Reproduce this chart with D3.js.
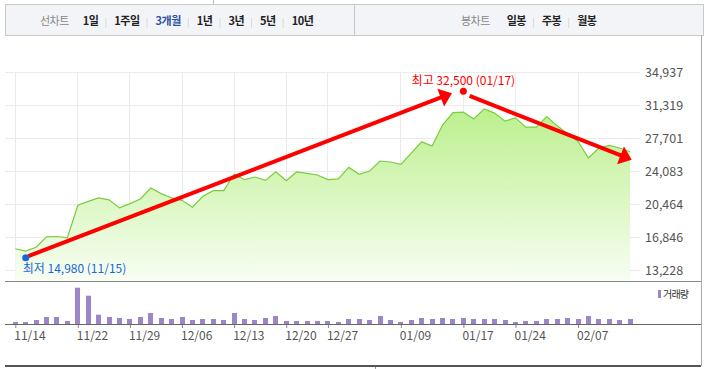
<!DOCTYPE html>
<html>
<head>
<meta charset="utf-8">
<script src="https://cdn.jsdelivr.net/npm/d3@7"></script>
<style>
body { margin: 0; background: #fff; }
svg { display: block; font-family: "Noto Sans CJK KR", sans-serif; }
</style>
</head>
<body>
<svg width="705" height="369"></svg>
<script>
// x labels and the trading-day index they sit on
var dateLabels = ["11/14", "11/22", "11/29", "12/06", "12/13", "12/20", "12/27", "01/09", "01/17", "01/24", "02/07"];
var dateIndex = [0, 6, 11, 16, 21, 26, 30, 37, 43, 48, 54];

var priceTicks = [13228, 16846, 20464, 24083, 27701, 31319, 34937];

// daily close, 60 trading days
var closes = [
  15630, 15370, 15800, 16940, 16970, 16830, 20390, 20820, 21190, 20980,
  20100, 20570, 21080, 22280, 21660, 21190, 20930, 20170, 21370, 21990,
  21990, 23790, 23190, 23480, 23110, 24060, 23080, 24030, 23880, 23700,
  23190, 23270, 24530, 23770, 24140, 25230, 25120, 24860, 26100, 27330,
  26870, 29160, 30530, 30570, 29840, 30930, 30470, 29590, 29950, 28940,
  28940, 30090, 29080, 28210, 27370, 25560, 26650, 26930, 26650, 26240
];

// daily volume (thousand shares)
var volumes = [
  20, 20, 40, 70, 70, 30, 363, 283, 93, 70,
  60, 50, 70, 110, 60, 50, 70, 40, 50, 50,
  40, 110, 50, 40, 60, 80, 30, 30, 30, 30,
  30, 20, 50, 50, 40, 80, 40, 20, 40, 60,
  50, 60, 50, 60, 50, 50, 50, 40, 20, 30,
  30, 50, 50, 60, 50, 80, 50, 50, 40, 50
];

var lowPoint = { i: 1, value: 14980, label: "최저 14,980 (11/15)" };
var highPoint = { i: 43, value: 32500, label: "최고 32,500 (01/17)" };

// red annotation arrows, [index, price]
var arrows = [
  { from: [1.25, 14820], to: [41.9, 32650] },
  { from: [43.6, 32350], to: [59.15, 25370] }
];

var lineMenu = ["1일", "1주일", "3개월", "1년", "3년", "5년", "10년"];
var candleMenu = ["일봉", "주봉", "월봉"];
var activeMenu = "3개월";

var svg = d3.select("svg");

var x = d3.scaleLinear().domain([0, 54]).range([15.3, 578]);
var yP = d3.scaleLinear().domain([13228, 34937]).range([270.7, 72.3]);
var yV = d3.scaleLinear().domain([0, 420]).range([324, 282]);

var priceBottom = 281;

// ---- top menu bar
svg.append("line").attr("x1", 213.5).attr("x2", 213.5).attr("y1", 0).attr("y2", 4)
  .attr("stroke", "#bbb");
svg.append("rect").attr("x", 5.5).attr("y", 4.5).attr("width", 698).attr("height", 31)
  .attr("fill", "#f3f4f7").attr("stroke", "#c9c9c9");
svg.append("line").attr("x1", 354.5).attr("x2", 354.5).attr("y1", 4).attr("y2", 35)
  .attr("stroke", "#c9c9c9");

function menu(title, titleX, items, startX) {
  svg.append("text").attr("x", titleX).attr("y", 21.5).attr("dy", "0.35em")
    .attr("font-size", 11).attr("letter-spacing", -0.5).attr("fill", "#888")
    .text(title);
  var cx = startX;
  items.forEach(function(d, i) {
    if (i > 0) {
      svg.append("line").attr("x1", cx - 8.5).attr("x2", cx - 8.5)
        .attr("y1", 18).attr("y2", 28).attr("stroke", "#dadada");
    }
    var t = svg.append("text").attr("x", cx).attr("y", 21.5).attr("dy", "0.35em")
      .attr("font-size", 11).attr("font-weight", "bold").attr("letter-spacing", -0.5)
      .attr("fill", d === activeMenu ? "#2f52a8" : "#222")
      .text(d);
    cx += t.node().getComputedTextLength() + 16;
  });
}
menu("선차트", 40, lineMenu, 82.7);
menu("봉차트", 461, candleMenu, 506.7);

// ---- grid
var grid = svg.append("g").attr("stroke", "#ebebeb").attr("shape-rendering", "crispEdges");
grid.selectAll(".h").data(priceTicks).enter().append("line")
  .attr("x1", 5).attr("x2", 640)
  .attr("y1", function(d) { return yP(d); }).attr("y2", function(d) { return yP(d); });
grid.selectAll(".v").data(dateIndex).enter().append("line")
  .attr("x1", function(d) { return x(d); }).attr("x2", function(d) { return x(d); })
  .attr("y1", yP(34937)).attr("y2", priceBottom);

// ---- price area + line
var grad = svg.append("defs").append("linearGradient").attr("id", "fillG")
  .attr("gradientUnits", "userSpaceOnUse").attr("x1", 0).attr("x2", 0)
  .attr("y1", 100).attr("y2", priceBottom);
grad.append("stop").attr("offset", 0).attr("stop-color", "#b9ef88");
grad.append("stop").attr("offset", 1).attr("stop-color", "#f8fef3");

svg.append("path").datum(closes)
  .attr("fill", "url(#fillG)")
  .attr("d", d3.area().x(function(d, i) { return x(i); }).y0(priceBottom).y1(function(d) { return yP(d); }));
svg.append("path").datum(closes)
  .attr("fill", "none").attr("stroke", "#79cc3e").attr("stroke-width", 1.2)
  .attr("d", d3.line().x(function(d, i) { return x(i); }).y(function(d) { return yP(d); }));

// ---- price labels
svg.append("g").selectAll("text").data(priceTicks).enter().append("text")
  .attr("x", 645).attr("y", function(d) { return yP(d); }).attr("dy", "0.35em")
  .attr("font-size", 12.5).attr("fill", "#555")
  .text(d3.format(","));

// ---- panel lines
svg.append("line").attr("x1", 5).attr("x2", 701).attr("y1", priceBottom + 0.5).attr("y2", priceBottom + 0.5)
  .attr("stroke", "#888");
svg.append("line").attr("x1", 701.5).attr("x2", 701.5).attr("y1", 35).attr("y2", 366)
  .attr("stroke", "#aaa");

// ---- volume bars
svg.append("g").selectAll("rect").data(volumes).enter().append("rect")
  .attr("x", function(d, i) { return Math.round(x(i) - 2.5); })
  .attr("width", 5)
  .attr("y", function(d) { return yV(d); })
  .attr("height", function(d) { return yV(0) - yV(d); })
  .attr("fill", "#9c86c7");

var xAxis = d3.axisBottom(x).tickValues(dateIndex)
  .tickFormat(function(d, i) { return dateLabels[i]; })
  .tickSize(4).tickPadding(3);
var ax = svg.append("g").attr("transform", "translate(0,324)").call(xAxis);
ax.select(".domain").remove();
ax.selectAll(".tick line").attr("stroke", "#888");
ax.selectAll(".tick text").attr("text-anchor", "start").attr("dx", -1.5)
  .attr("font-family", "'Noto Sans CJK KR', sans-serif").attr("font-size", 12).attr("fill", "#555");
svg.append("line").attr("x1", 5).attr("x2", 701).attr("y1", 324.5).attr("y2", 324.5)
  .attr("stroke", "#666");

// volume legend
svg.append("rect").attr("x", 658).attr("y", 290).attr("width", 3).attr("height", 8).attr("fill", "#9c86c7");
svg.append("text").attr("x", 663).attr("y", 294).attr("dy", "0.35em")
  .attr("font-size", 10).attr("letter-spacing", -0.8).attr("fill", "#333").text("거래량");

// bottom border
svg.append("line").attr("x1", 5).attr("x2", 701).attr("y1", 366).attr("y2", 366)
  .attr("stroke", "#555").attr("stroke-width", 2);
svg.append("line").attr("x1", 375.5).attr("x2", 375.5).attr("y1", 367).attr("y2", 369)
  .attr("stroke", "#999");

// ---- red arrows
arrows.forEach(function(a) {
  var x0 = x(a.from[0]), y0 = yP(a.from[1]), x1 = x(a.to[0]), y1 = yP(a.to[1]);
  var dx = x1 - x0, dy = y1 - y0, len = Math.sqrt(dx * dx + dy * dy);
  var ux = dx / len, uy = dy / len, head = 12, half = 9.5;
  var bx = x1 - ux * head, by = y1 - uy * head;
  svg.append("line").attr("x1", x0).attr("y1", y0).attr("x2", bx + ux).attr("y2", by + uy)
    .attr("stroke", "#f00").attr("stroke-width", 4);
  svg.append("polygon")
    .attr("points", [[x1, y1], [bx - uy * half, by + ux * half], [bx + uy * half, by - ux * half]].join(" "))
    .attr("fill", "#f00");
});

// ---- low / high markers
var lx = x(lowPoint.i), ly = yP(lowPoint.value) + 3;
svg.append("circle").attr("cx", lx).attr("cy", ly).attr("r", 3.5).attr("fill", "#1a66d6");
svg.append("text").attr("x", lx - 3).attr("y", ly + 11.5).attr("dy", "0.35em")
  .attr("font-size", 12).attr("fill", "#1a66d6").text(lowPoint.label);

var hx = x(highPoint.i), hy = yP(highPoint.value) - 3.4;
svg.append("circle").attr("cx", hx).attr("cy", hy).attr("r", 3.5).attr("fill", "#f00");
svg.append("text").attr("x", hx).attr("y", hy - 10.6).attr("dy", "0.35em")
  .attr("text-anchor", "middle")
  .attr("font-size", 12).attr("fill", "#f00").text(highPoint.label);
</script>
</body>
</html>
